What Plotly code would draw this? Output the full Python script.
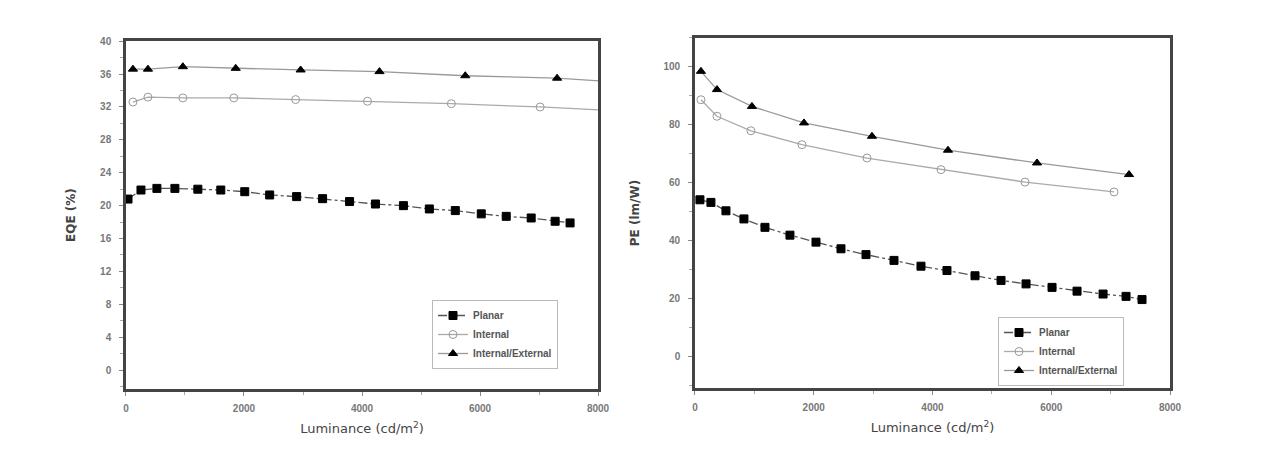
import plotly.graph_objects as go
from plotly.subplots import make_subplots

# EQE panel (left)
eqe_planar_x = [34, 254, 524, 829, 1218, 1607, 2013, 2435, 2892, 3332, 3789, 4228, 4702, 5141, 5581, 6021, 6444, 6867, 7273, 7526]
eqe_planar_y = [20.8, 21.9, 22.1, 22.1, 22.0, 21.9, 21.7, 21.3, 21.1, 20.85, 20.5, 20.2, 20.0, 19.6, 19.4, 19.0, 18.7, 18.5, 18.1, 17.9]
eqe_internal_x = [118, 372, 964, 1827, 2875, 4093, 5514, 7019, 8400]
eqe_internal_y = [32.6, 33.2, 33.1, 33.1, 32.9, 32.7, 32.4, 32.0, 31.5]
eqe_intext_x = [118, 372, 964, 1860, 2960, 4296, 5750, 7306, 8400]
eqe_intext_y = [36.6, 36.6, 36.9, 36.7, 36.5, 36.3, 35.8, 35.5, 35.0]

# PE panel (right)
pe_planar_x = [84, 269, 522, 825, 1179, 1600, 2038, 2459, 2880, 3352, 3806, 4244, 4716, 5154, 5575, 6013, 6434, 6872, 7259, 7528]
pe_planar_y = [54.2, 53.3, 50.4, 47.6, 44.7, 42.0, 39.6, 37.3, 35.3, 33.3, 31.3, 29.8, 28.0, 26.4, 25.2, 24.0, 22.7, 21.7, 20.9, 19.8]
pe_internal_x = [101, 371, 943, 1802, 2897, 4143, 5558, 7057]
pe_internal_y = [88.7, 83.0, 78.0, 73.2, 68.6, 64.6, 60.3, 56.9]
pe_intext_x = [101, 371, 960, 1836, 2981, 4261, 5760, 7309]
pe_intext_y = [98.5, 92.2, 86.4, 80.7, 76.1, 71.3, 66.9, 62.9]

names = ['Planar', 'Internal', 'Internal/External']

FONT = 'Liberation Sans'
TITLE_FONT = 'DejaVu Sans'
AX = '#444'

fig = make_subplots(rows=1, cols=2)

styles = [
    dict(symbol='square', color='black', line=dict(color='#555', width=1.3, dash='dashdot')),
    dict(symbol='circle-open', color='#999', line=dict(color='#aaa', width=1.3)),
    dict(symbol='triangle-up', color='black', line=dict(color='#999', width=1.3)),
]

panels = [
    (1, [(eqe_planar_x, eqe_planar_y), (eqe_internal_x, eqe_internal_y), (eqe_intext_x, eqe_intext_y)]),
    (2, [(pe_planar_x, pe_planar_y), (pe_internal_x, pe_internal_y), (pe_intext_x, pe_intext_y)]),
]

for col, series in panels:
    for (x, y), name, st in zip(series, names, styles):
        fig.add_trace(go.Scatter(
            x=x, y=y, name=name, mode='lines+markers',
            line=st['line'],
            marker=dict(symbol=st['symbol'], size=8, color=st['color'],
                        line=dict(color=st['color'], width=1)),
            legend='legend' if col == 1 else 'legend2',
        ), row=1, col=col)

axis_common = dict(
    showline=True, linecolor=AX, linewidth=2.5, mirror=True,
    showgrid=False, zeroline=False, ticks='outside', ticklen=4, tickcolor='#888',
    tickfont=dict(family=FONT, size=10, color='#777', weight='bold'),
    minor=dict(ticks='outside', ticklen=3, tickcolor='#aaa'),
    automargin=False,
)

fig.update_xaxes(**axis_common, ticklabelstandoff=4)
fig.update_yaxes(**axis_common, ticklabelstandoff=6)

x_title = dict(text='Luminance (cd/m<sup>2</sup>)', font=dict(family=TITLE_FONT, size=13, color='#444'), standoff=12)
fig.update_xaxes(range=[0, 8000], dtick=2000, minor_dtick=1000, domain=[0.0929, 0.4646],
                 title=x_title, row=1, col=1)
fig.update_xaxes(range=[0, 8000], dtick=2000, minor_dtick=1000, domain=[0.5409, 0.915],
                 title=x_title, row=1, col=2)
y_title_font = dict(family=TITLE_FONT, size=12, color='#444', weight='bold')
fig.update_yaxes(range=[-2.3, 40], dtick=4, minor_dtick=2, domain=[0.1735, 0.928],
                 title=dict(text='EQE (%)', font=y_title_font, standoff=22), row=1, col=1)
fig.update_yaxes(range=[-10.7, 110], dtick=20, minor_dtick=10, domain=[0.1757, 0.935],
                 title=dict(text='PE (lm/W)', font=y_title_font, standoff=22), row=1, col=2)

legend_common = dict(
    bgcolor='white', bordercolor='#bbb', borderwidth=1,
    font=dict(family=FONT, size=10, color='#555', weight='bold'),
    tracegroupgap=0, itemsizing='trace', itemwidth=30, xanchor='left', yanchor='top',
)
fig.update_layout(
    width=1270, height=461,
    margin=dict(l=0, r=0, t=0, b=0),
    paper_bgcolor='white', plot_bgcolor='white',
    showlegend=True,
    legend=dict(x=424 / 1270, y=1 - 292 / 461, **legend_common),
    legend2=dict(x=990 / 1270, y=1 - 309 / 461, **legend_common),
)

fig.write_html("out.html")
